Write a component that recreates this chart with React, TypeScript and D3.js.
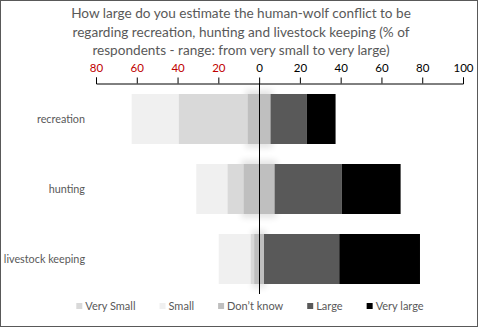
import React, { useEffect, useRef } from 'react';
import * as d3 from 'd3';

const titleLines = [
  'How large do you estimate the human-wolf conflict to be',
  'regarding recreation, hunting and livestock keeping  (% of',
  'respondents - range: from very small to very large)',
];

const categories = ['recreation', 'hunting', 'livestock keeping'];

// % of respondents per answer, one array per series (same order as categories)
const small = [23.1, 15.3, 15.7];
const verySmall = [33.8, 7.9, 1.7];
const dontKnow = [11.2, 15.2, 4.8];
const large = [17.7, 32.9, 36.9];
const veryLarge = [14.2, 28.9, 39.6];

const tickValues = [-80, -60, -40, -20, 0, 20, 40, 60, 80, 100];

const legendNames = ['Very Small', 'Small', "Don\u2019t know", 'Large', 'Very large'];
const legendColors = ['#d9d9d9', '#f0f0f0', '#bfbfbf', '#595959', '#000000'];

const W = 480;
const H = 328;
const FONT = 'Lato, "Open Sans", sans-serif';

const App: React.FC = () => {
  const svgRef = useRef<SVGSVGElement>(null);

  useEffect(() => {
    if (!svgRef.current) return;
    const svg = d3.select(svgRef.current);
    svg.selectAll('*').remove();

    // chart border
    svg.append('rect')
      .attr('x', 0.5).attr('y', 0.5)
      .attr('width', W - 3).attr('height', H - 2)
      .attr('fill', '#fff')
      .attr('stroke', '#595959');

    const defs = svg.append('defs');
    defs.append('filter')
      .attr('id', 'glow')
      .attr('x', '-50%').attr('y', '-50%')
      .attr('width', '200%').attr('height', '200%')
      .append('feGaussianBlur')
      .attr('stdDeviation', 3);

    // title
    svg.append('text')
      .attr('x', 241)
      .attr('text-anchor', 'middle')
      .style('font-family', FONT)
      .style('font-size', '13.6px')
      .style('fill', '#595959')
      .selectAll('tspan')
      .data(titleLines)
      .join('tspan')
      .attr('x', 241)
      .attr('y', (_, i) => 18 + i * 18.5)
      .text(d => d);

    const x = d3.scaleLinear().domain([-80, 100]).range([96, 463]);
    const y = d3.scaleBand<string>()
      .domain(categories)
      .range([84, 294])
      .paddingInner(0.2857)
      .paddingOuter(0.1428);

    // top axis
    const axis = svg.append('g')
      .attr('transform', 'translate(0,83.5)')
      .call(d3.axisTop(x).tickValues(tickValues).tickSize(6).tickPadding(6)
        .tickFormat(d => String(Math.abs(+d))));
    axis.select('.domain').attr('stroke', '#000');
    axis.selectAll('.tick line').attr('stroke', '#000');
    axis.selectAll<SVGTextElement, number>('.tick text')
      .style('font-family', FONT)
      .style('font-size', '11.5px')
      .attr('fill', d => (d < 0 ? '#c00000' : '#000'));

    const rows = categories.map((c, i) => {
      const half = dontKnow[i] / 2;
      return [
        { key: 'small', c, x0: -half - verySmall[i] - small[i], x1: -half - verySmall[i], color: legendColors[1] },
        { key: 'verySmall', c, x0: -half - verySmall[i], x1: -half, color: legendColors[0] },
        { key: 'dontKnow', c, x0: -half, x1: half, color: legendColors[2] },
        { key: 'large', c, x0: half, x1: half + large[i], color: legendColors[3] },
        { key: 'veryLarge', c, x0: half + large[i], x1: half + large[i] + veryLarge[i], color: legendColors[4] },
      ];
    }).flat();

    // soft shadow behind the "don't know" segments
    svg.append('g')
      .selectAll('rect')
      .data(rows.filter(d => d.key === 'dontKnow'))
      .join('rect')
      .attr('x', d => x(d.x0) - 2)
      .attr('y', d => (y(d.c) as number) - 4)
      .attr('width', d => x(d.x1) - x(d.x0) + 4)
      .attr('height', y.bandwidth() + 8)
      .attr('fill', '#000')
      .attr('opacity', 0.1)
      .attr('filter', 'url(#glow)');

    svg.append('g')
      .selectAll('rect')
      .data(rows)
      .join('rect')
      .attr('x', d => x(d.x0))
      .attr('y', d => y(d.c) as number)
      .attr('width', d => x(d.x1) - x(d.x0))
      .attr('height', y.bandwidth())
      .attr('fill', d => d.color);

    // zero line
    svg.append('line')
      .attr('x1', Math.round(x(0)) + 0.5).attr('x2', Math.round(x(0)) + 0.5)
      .attr('y1', 83).attr('y2', 294)
      .attr('stroke', '#000');

    // category labels
    svg.append('g')
      .selectAll('text')
      .data(categories)
      .join('text')
      .attr('x', 85)
      .attr('y', d => (y(d) as number) + y.bandwidth() / 2)
      .attr('dy', '0.35em')
      .attr('text-anchor', 'end')
      .style('font-family', FONT)
      .style('font-size', '10.8px')
      .style('fill', '#595959')
      .text(d => d);

    // legend, laid out from measured text widths and centred
    const legend = svg.append('g');
    const items = legend.selectAll('g')
      .data(legendNames)
      .join('g');
    items.append('rect')
      .attr('width', 6).attr('height', 6)
      .attr('y', -3)
      .attr('fill', (_, i) => legendColors[i]);
    const texts = items.append('text')
      .attr('x', 9)
      .attr('dy', '0.35em')
      .style('font-family', FONT)
      .style('font-size', '11px')
      .style('fill', '#595959')
      .text(d => d);
    const widths = texts.nodes().map(n => n.getComputedTextLength() + 9);
    const gap = 24;
    const total = d3.sum(widths) + gap * (widths.length - 1);
    let cx = 250 - total / 2;
    items.attr('transform', (_, i) => {
      const t = `translate(${cx},306)`;
      cx += widths[i] + gap;
      return t;
    });
  }, []);

  return (
    <svg
      ref={svgRef}
      width={W}
      height={H}
      style={{ position: 'absolute', left: 0, top: 0 }}
    />
  );
};

export default App;
